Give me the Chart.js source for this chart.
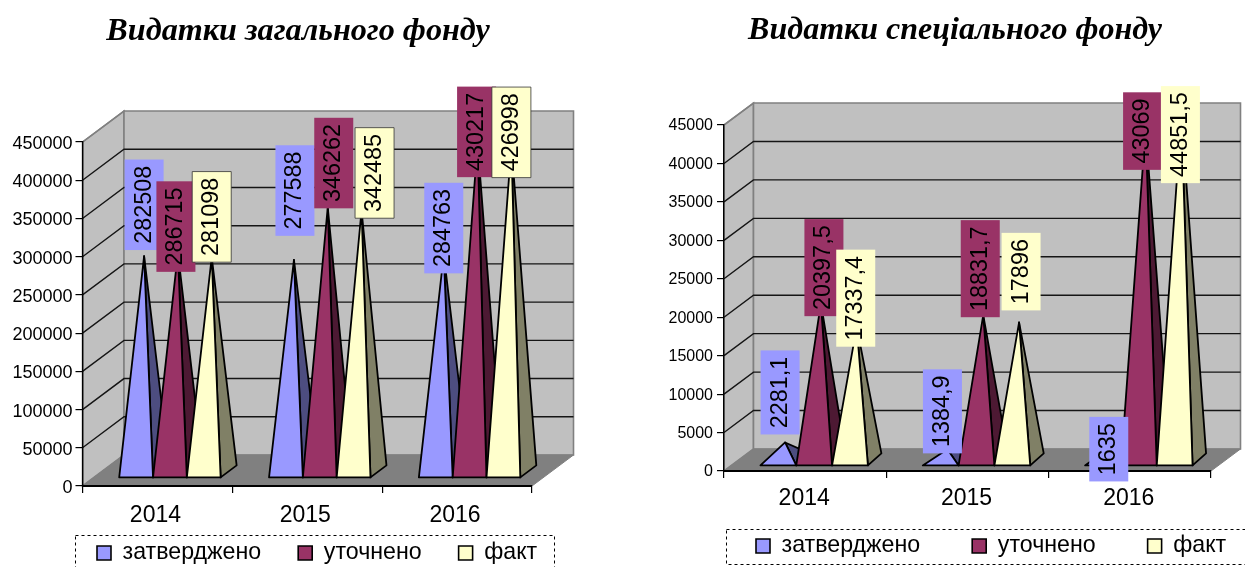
<!DOCTYPE html>
<html lang="uk">
<head>
<meta charset="utf-8">
<title>Видатки</title>
<style>
html,body{margin:0;padding:0;background:#fff;width:1245px;height:567px;overflow:hidden}
canvas{position:absolute;top:0;display:block}
#general{left:0}
#special{left:665px}
</style>
<script src="https://cdn.jsdelivr.net/npm/chart.js@4/dist/chart.umd.min.js"></script>
</head>
<body>
<canvas id="general" width="596" height="567"></canvas>
<canvas id="special" width="580" height="567"></canvas>
<script>
const categories = ['2014', '2015', '2016'];
const seriesNames = ['затверджено', 'уточнено', 'факт'];

const generalApproved = [282508, 277588, 284763];
const generalRevised = [286715, 346262, 430217];
const generalActual = [281098, 342485, 426998];

const specialApproved = [2281.1, 1384.9, 1635];
const specialRevised = [20397.5, 18831.7, 43069];
const specialActual = [17337.4, 17896, 44851.5];

const frontColors = ['#9999ff', '#993366', '#ffffcc'];
const sideColors = ['#4d4d80', '#4d1933', '#808066'];
const FONT = '"Liberation Sans", Arial, sans-serif';

function pyramidPlugin(p) {
  return {
    id: 'pyramid3d',
    beforeLayout(chart) {
      const lg = chart.legend;
      if (lg && !lg._wrapped) {
        const fit = lg.fit;
        lg.fit = function () { fit.call(lg); lg.height = 0; };
        lg._wrapped = true;
      }
    },
    afterLayout(chart) {
      const lg = chart.legend;
      lg.left = p.legendX - p.legendGap;
      lg.right = 3000;
      lg.top = p.legendCenter - p.legendGap - p.legendFont / 2;
      lg.bottom = chart.height;
      const tb = chart.titleBlock;
      tb.left = 0;
      tb.right = chart.width;
    },
    beforeDraw(chart) {
      const { ctx, scales: { x, y } } = chart;
      const y0 = y.getPixelForValue(0), yT = y.top, L = x.left, R = x.right;
      const dx = p.depthX, dy = p.depthY;
      ctx.save();
      // side wall
      ctx.fillStyle = '#c0c0c0';
      ctx.strokeStyle = '#808080';
      ctx.lineWidth = 1.6;
      ctx.beginPath();
      ctx.moveTo(L, y0); ctx.lineTo(L + dx, y0 - dy); ctx.lineTo(L + dx, yT - dy); ctx.lineTo(L, yT);
      ctx.closePath(); ctx.fill(); ctx.stroke();
      // back wall
      ctx.beginPath();
      ctx.rect(L + dx, yT - dy, R - L, y0 - yT);
      ctx.fill(); ctx.stroke();
      // grid on both walls
      ctx.strokeStyle = '#151515';
      ctx.lineWidth = 1.4;
      y.ticks.forEach(t => {
        if (t.value === 0 || t.value === y.max) return;
        const py = y.getPixelForValue(t.value);
        ctx.beginPath();
        ctx.moveTo(L, py); ctx.lineTo(L + dx, py - dy); ctx.lineTo(R + dx, py - dy);
        ctx.stroke();
      });
      ctx.strokeStyle = '#808080';
      ctx.beginPath(); ctx.moveTo(L, yT); ctx.lineTo(L + dx, yT - dy); ctx.stroke();
      // floor
      ctx.fillStyle = '#808080';
      ctx.strokeStyle = '#808080';
      ctx.lineWidth = 1;
      ctx.beginPath();
      ctx.moveTo(L, y0); ctx.lineTo(L + dx, y0 - dy); ctx.lineTo(R + dx, y0 - dy); ctx.lineTo(R, y0);
      ctx.closePath(); ctx.fill(); ctx.stroke();
      ctx.restore();
    },
    beforeDatasetDraw() { return false; },
    afterDatasetsDraw(chart) {
      const ctx = chart.ctx;
      ctx.save();
      ctx.lineJoin = 'round';
      chart.data.datasets.forEach((ds, d) => {
        chart.getDatasetMeta(d).data.forEach(el => {
          const xl = el.x - el.width / 2 + p.baseX, xr = xl + el.width;
          const yb = el.base - p.baseY;
          const ax = el.x + p.baseX + p.backX / 2, ay = el.y - p.baseY - p.backY / 2;
          ctx.lineWidth = 1.8;
          ctx.strokeStyle = '#000';
          ctx.fillStyle = sideColors[d];
          ctx.beginPath();
          ctx.moveTo(xr, yb); ctx.lineTo(xr + p.backX, yb - p.backY); ctx.lineTo(ax, ay);
          ctx.closePath(); ctx.fill(); ctx.stroke();
          ctx.fillStyle = frontColors[d];
          ctx.beginPath();
          ctx.moveTo(xl, yb); ctx.lineTo(xr, yb); ctx.lineTo(ax, ay);
          ctx.closePath(); ctx.fill(); ctx.stroke();
        });
      });
      // value labels
      ctx.font = p.valueFont + 'px ' + FONT;
      ctx.textAlign = 'center';
      ctx.textBaseline = 'middle';
      chart.data.datasets.forEach((ds, d) => {
        chart.getDatasetMeta(d).data.forEach((el, i) => {
          const txt = String(ds.data[i]).replace('.', ',');
          const w = ctx.measureText(txt).width + 12.5;
          const ax = el.x + p.baseX + p.backX / 2, ay = el.y - p.baseY - p.backY / 2;
          const s = p.labelShift[d][i];
          const cx = ax + s[0], bottom = ay + s[1];
          ctx.fillStyle = frontColors[d];
          ctx.fillRect(cx - 19.5, bottom - w, 39, w);
          if (p.yellowBorder && d === 2) {
            ctx.strokeStyle = '#333';
            ctx.lineWidth = 0.8;
            ctx.strokeRect(cx - 19.5, bottom - w, 39, w);
          }
          ctx.save();
          ctx.translate(cx, bottom - w / 2);
          ctx.rotate(-Math.PI / 2);
          ctx.fillStyle = '#000';
          ctx.fillText(txt, 0, 0);
          ctx.restore();
        });
      });
      ctx.restore();
    },
    afterDraw(chart) {
      const ctx = chart.ctx, f = p.frame;
      ctx.save();
      ctx.strokeStyle = '#000';
      ctx.lineWidth = 1;
      ctx.setLineDash([3, 3]);
      ctx.strokeRect(f[0] + 0.5, f[1] + 0.5, f[2], f[3]);
      ctx.restore();
    }
  };
}

function build(id, title, values, p) {
  return new Chart(document.getElementById(id), {
    type: 'bar',
    data: {
      labels: categories,
      datasets: values.map((v, i) => ({
        label: seriesNames[i],
        data: v,
        backgroundColor: frontColors[i],
        borderColor: '#000',
        borderWidth: 1.6,
        categoryPercentage: p.groupShare,
        barPercentage: 1
      }))
    },
    options: {
      responsive: false,
      animation: false,
      devicePixelRatio: 1,
      events: [],
      layout: { padding: { left: 0, top: 0, right: p.padRight, bottom: p.padBottom } },
      plugins: {
        tooltip: { enabled: false },
        title: {
          display: true,
          text: title,
          color: '#000',
          font: { family: '"Liberation Serif", "Times New Roman", serif', size: p.titleFont, style: 'italic', weight: 'bold' },
          padding: { top: 12, bottom: p.titleBottom }
        },
        legend: {
          display: true,
          position: 'bottom',
          align: 'start',
          labels: {
            boxWidth: 14, boxHeight: 14,
            padding: p.legendGap,
            color: '#000',
            font: { family: FONT, size: p.legendFont }
          }
        }
      },
      scales: {
        x: {
          afterFit(s) { s.height = 40; },
          grid: { drawOnChartArea: false, drawTicks: true, tickLength: 7, color: '#000', lineWidth: 1.2 },
          border: { display: true, color: '#000', width: 2 },
          ticks: { color: '#000', font: { family: FONT, size: 23 }, padding: p.xPad, maxRotation: 0, labelOffset: p.xOffset }
        },
        y: {
          min: 0,
          max: p.yMax,
          afterFit(s) { s.width = p.leftEdge; },
          grid: { drawOnChartArea: false, drawTicks: true, tickLength: 7, color: '#000', lineWidth: 1.2 },
          border: { display: true, color: '#000', width: 1.4 },
          ticks: { color: '#000', stepSize: p.yStep, font: { family: FONT, size: p.yFont }, padding: p.yPad, labelOffset: p.yOffset, callback: v => String(v) }
        }
      }
    },
    plugins: [pyramidPlugin(p)]
  });
}

const generalShift = [
  [[0, -6], [1, -24], [0, 19]],
  [[-2, 19], [6, 1], [-1, 34]],
  [[0, 5], [13, 8], [0, 32]]
];
const specialShift = [
  [[-5, -8], [-5, 4], [-1, 34]],
  [[3, 13], [-3, 2], [-3, 41]],
  [[-1, 20], [2, -12], [-1, 68]]
];

build('general', 'Видатки загального фонду', [generalApproved, generalRevised, generalActual], {
  yMax: 450000, yStep: 50000, yFont: 18, yPad: 3, yOffset: 2, xPad: 9, xOffset: -2,
  leftEdge: 82.5, padRight: 596 - 532, padBottom: 567 - 486 - 40,
  titleFont: 32.2, titleBottom: 142 - 12 - 38.6,
  depthX: 41.5, depthY: 31, groupShare: 0.677,
  baseX: 12.5, baseY: 8, backX: 16, backY: 12,
  valueFont: 23.4, yellowBorder: true, labelShift: generalShift,
  legendX: 97, legendCenter: 553, legendGap: 37, legendFont: 23.2,
  frame: [75, 535, 479, 60]
});

build('special', 'Видатки спеціального фонду', [specialApproved, specialRevised, specialActual], {
  yMax: 45000, yStep: 5000, yFont: 16, yPad: 4, yOffset: 1, xPad: 7, xOffset: -1,
  leftEdge: 59, padRight: 580 - 546, padBottom: 567 - 471 - 40,
  titleFont: 32, titleBottom: 125 - 12 - 38.4,
  depthX: 29.5, depthY: 22, groupShare: 0.662,
  baseX: 9, baseY: 5, backX: 13.5, backY: 12,
  valueFont: 23.4, yellowBorder: false, labelShift: specialShift,
  legendX: 756 - 665, legendCenter: 546, legendGap: 52, legendFont: 23.2,
  frame: [726 - 665, 529, 540, 35]
});
</script>
</body>
</html>
